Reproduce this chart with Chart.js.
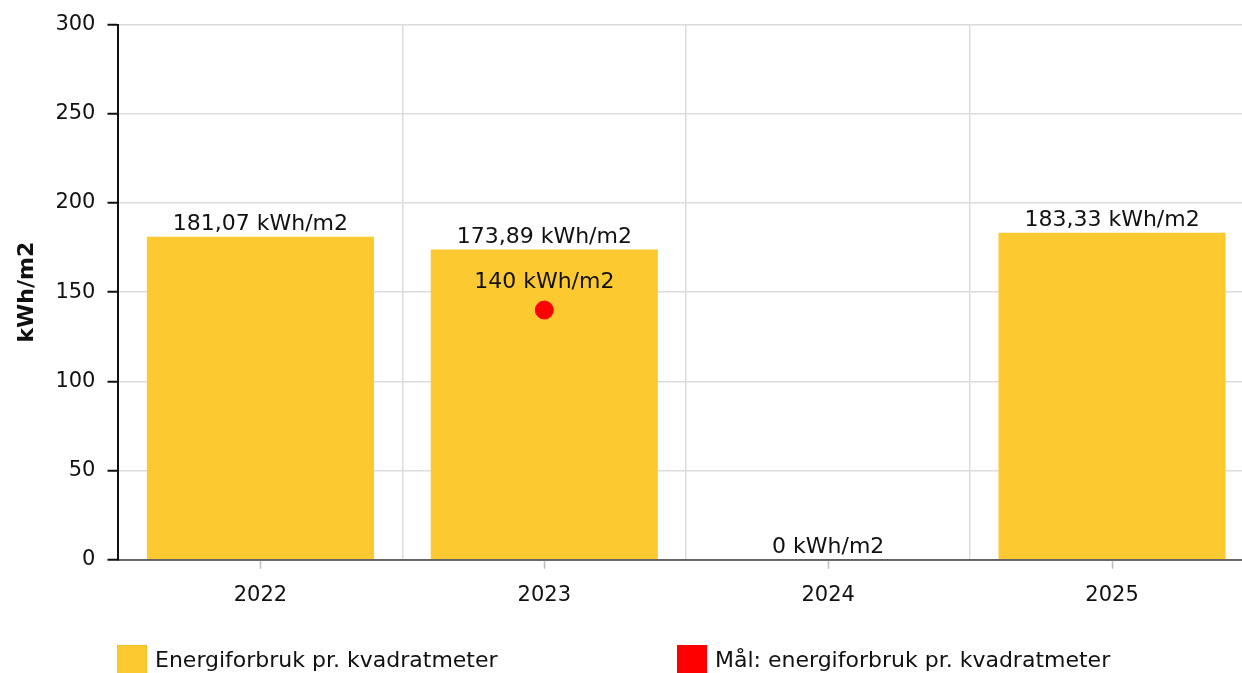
<!DOCTYPE html>
<html>
<head>
<meta charset="utf-8">
<script src="https://cdn.jsdelivr.net/npm/chart.js@4.4.1/dist/chart.umd.min.js"></script>
<style>
  body { margin: 0; background: #fff; }
  #wrap { position: relative; width: 1242px; height: 673px; overflow: hidden; }
  #box { position: absolute; left: 0; top: 0; width: 1264px; height: 673px; }
  #legend { position: absolute; left: 0; top: 645px; width: 1242px; height: 30px;
    font-family: "DejaVu Sans", sans-serif; font-size: 22px; color: #111; }
  .item { position: absolute; top: 0; height: 30px; line-height: 30px; white-space: nowrap; }
  .sw { position: absolute; left: 0; top: 0; width: 30px; height: 30px; box-sizing: border-box; }
  .txt { position: absolute; left: 38px; top: 0; }
</style>
</head>
<body>
<div id="wrap">
  <div id="box"><canvas id="myChart"></canvas></div>
  <div id="legend"></div>
</div>
<script>
// data
var years = ['2022', '2023', '2024', '2025']
var usage = [181.07, 173.89, 0, 183.33]
var target = [null, 140, null, null]
var unit = ' kWh/m2'
var seriesNames = ['Energiforbruk pr. kvadratmeter', 'Mål: energiforbruk pr. kvadratmeter']
var yMin = 0, yMax = 300, yStep = 50

var yellow = '#fdc931'
var red = '#ff0000'
var legendX = [117, 677]

Chart.defaults.font.family = '"DejaVu Sans", sans-serif'
Chart.defaults.color = '#111'

function fmt(v) {
    return String(v).replace('.', ',') + unit
}

// value labels above bars and the target point
var valueLabels = {
    id: 'valueLabels',
    afterDatasetsDraw: function (chart) {
        var ctx = chart.ctx
        ctx.save()
        ctx.font = '22px "DejaVu Sans", sans-serif'
        ctx.fillStyle = '#111'
        ctx.textAlign = 'center'
        ctx.textBaseline = 'alphabetic'
        chart.data.datasets.forEach(function (ds, di) {
            var meta = chart.getDatasetMeta(di)
            meta.data.forEach(function (el, i) {
                var v = ds.data[i]
                if (v === null || v === undefined) return
                var off = ds.type === 'line' ? 22 : 7
                ctx.fillText(fmt(v), el.x, el.y - off)
            })
        })
        ctx.restore()
    }
}

// small tick marks under the category centres
var xTickMarks = {
    id: 'xTickMarks',
    afterDraw: function (chart) {
        var sc = chart.scales.x
        var ctx = chart.ctx
        ctx.save()
        ctx.strokeStyle = '#bbb'
        ctx.lineWidth = 1.5
        sc.ticks.forEach(function (t, i) {
            var x = Math.round(sc.getPixelForTick(i)) + 0.5
            ctx.beginPath()
            ctx.moveTo(x, sc.top + 1)
            ctx.lineTo(x, sc.top + 9)
            ctx.stroke()
        })
        ctx.restore()
    }
}

var myChart = new Chart(document.getElementById('myChart'), {
    type: 'bar',
    data: {
        labels: years,
        datasets: [{
            label: seriesNames[0],
            data: usage,
            backgroundColor: yellow,
            borderWidth: 0,
            barPercentage: 0.8,
            categoryPercentage: 1,
            order: 1
        }, {
            type: 'line',
            label: seriesNames[1],
            data: target,
            showLine: false,
            pointRadius: 9,
            pointHoverRadius: 9,
            pointBackgroundColor: red,
            pointBorderColor: red,
            backgroundColor: red,
            borderColor: red,
            order: 0
        }]
    },
    options: {
        responsive: true,
        maintainAspectRatio: false,
        animation: false,
        layout: { padding: { top: 18, right: 0, bottom: 42, left: 14 } },
        plugins: {
            legend: { display: false },
            tooltip: { enabled: false }
        },
        scales: {
            x: {
                offset: true,
                grid: {
                    offset: true,
                    drawTicks: false,
                    color: function (c) { return c.index === 0 ? 'rgba(0,0,0,0)' : '#dcdcdc' },
                    lineWidth: 1.5
                },
                border: { color: 'rgba(0,0,0,0.55)', width: 2, z: 1 },
                ticks: { font: { size: 21 }, padding: 23, color: '#111' }
            },
            y: {
                min: yMin,
                max: yMax,
                ticks: { stepSize: yStep, font: { size: 21 }, padding: 12, color: '#111' },
                grid: { color: '#dcdcdc', lineWidth: 1.5, tickColor: '#111', tickLength: 11, tickWidth: 2 },
                border: { color: '#111', width: 2 },
                title: {
                    display: true,
                    text: 'kWh/m2',
                    font: { size: 22, weight: 'bold' },
                    color: '#111',
                    padding: { top: 0, bottom: 3 }
                }
            }
        }
    },
    plugins: [valueLabels, xTickMarks]
})

// legend built from the chart's own datasets
var lg = document.getElementById('legend')
myChart.data.datasets.forEach(function (ds, i) {
    var item = document.createElement('div')
    item.className = 'item'
    item.style.left = legendX[i] + 'px'
    var sw = document.createElement('span')
    sw.className = 'sw'
    sw.style.background = ds.backgroundColor
    sw.style.border = '1px solid ' + (i === 0 ? '#f5c21f' : red)
    var txt = document.createElement('span')
    txt.className = 'txt'
    txt.textContent = ds.label
    item.appendChild(sw)
    item.appendChild(txt)
    lg.appendChild(item)
})
</script>
</body>
</html>
